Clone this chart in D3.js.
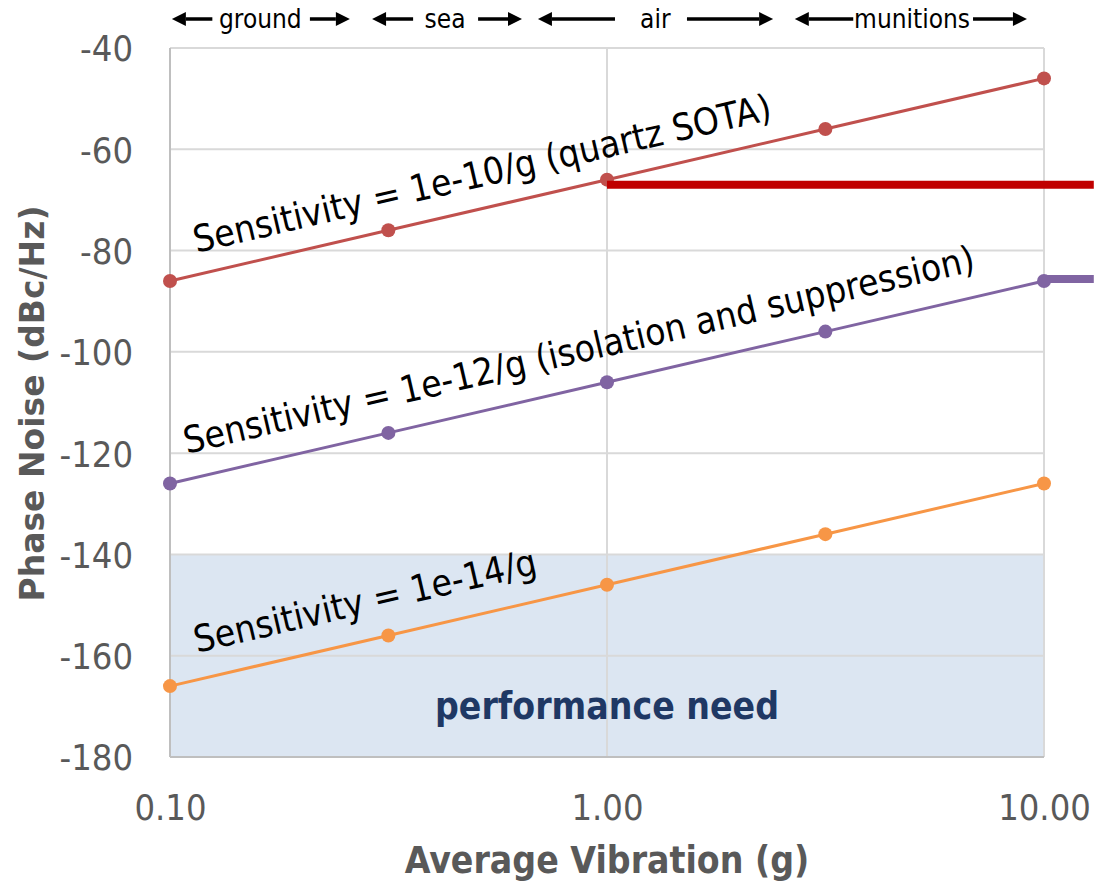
<!DOCTYPE html>
<html>
<head>
<meta charset="utf-8">
<script src="https://cdn.jsdelivr.net/npm/d3@7"></script>
<style>
  html, body { margin: 0; padding: 0; background: #ffffff; }
  svg { display: block; }
</style>
</head>
<body>
<svg id="chart" width="1094" height="881"></svg>
<script>
// ---------------- data ----------------
const vibration = [0.1, 0.316, 1, 3.16, 10];          // g
const sens1e10 = [-86, -76, -66, -56, -46];           // dBc/Hz
const sens1e12 = [-126, -116, -106, -96, -86];
const sens1e14 = [-166, -156, -146, -136, -126];
const seriesNames = ["Sensitivity = 1e-10/g (quartz SOTA)",
                     "Sensitivity = 1e-12/g (isolation and suppression)",
                     "Sensitivity = 1e-14/g"];
const yTickValues = [-40, -60, -80, -100, -120, -140, -160, -180];
const yTickLabels = ["-40", "-60", "-80", "-100", "-120", "-140", "-160", "-180"];
const xTickValues = [0.1, 1, 10];
const xTickLabels = ["0.10", "1.00", "10.00"];
const needBand = [-180, -140];                          // performance need band
const needLabel = "performance need";
const redLimitX = [1, 13];   const redLimitY = -67;
const purpleLimitX = [10, 13]; const purpleLimitY = -85.6;
// platform regions: label, label centre, left arrow [head, tail], right arrow [tail, head] (g)
const regionNames = ["ground", "sea", "air", "munitions"];
const regionCenters = [0.161, 0.426, 1.29, 4.99];
const leftArrows = [[0.101, 0.125], [0.290, 0.360], [0.695, 1.043], [2.69, 3.66]];
const rightArrows = [[0.209, 0.258], [0.507, 0.639], [1.524, 2.40], [6.88, 9.14]];
// label start positions along each line (g)
const labelStartX = [0.1150, 0.1092, 0.1153];

// ---------------- style ----------------
const colors = ["#c0504d", "#8064a2", "#f79646"];
const labelOffsets = [22, 26, 27];
const grey = "#595959";
const condensed = "'DejaVu Sans Condensed', 'DejaVu Sans', sans-serif";

const svg = d3.select("#chart");
const x = d3.scaleLog().domain([0.1, 10]).range([170, 1044]);
const y = d3.scaleLinear().domain([-180, -40]).range([757, 48]);

// performance need band
svg.append("rect")
  .attr("x", x(0.1)).attr("width", x(10) - x(0.1))
  .attr("y", y(needBand[1])).attr("height", y(needBand[0]) - y(needBand[1]))
  .attr("fill", "#dce6f2");

// gridlines
svg.append("g").selectAll("line").data(yTickValues.filter(v => v !== -180)).join("line")
  .attr("x1", x(0.1)).attr("x2", x(10))
  .attr("y1", d => y(d)).attr("y2", d => y(d))
  .attr("stroke", "#d9d9d9").attr("stroke-width", 2);
svg.append("g").selectAll("line").data(xTickValues.filter(v => v !== 0.1)).join("line")
  .attr("x1", d => x(d)).attr("x2", d => x(d))
  .attr("y1", y(-40)).attr("y2", y(-180))
  .attr("stroke", "#d9d9d9").attr("stroke-width", 2);

// axes lines
svg.append("line").attr("x1", x(0.1)).attr("x2", x(0.1)).attr("y1", y(-40)).attr("y2", y(-180))
  .attr("stroke", "#bfbfbf").attr("stroke-width", 2);
svg.append("line").attr("x1", x(0.1)).attr("x2", x(10)).attr("y1", y(-180)).attr("y2", y(-180))
  .attr("stroke", "#bfbfbf").attr("stroke-width", 2);

// tick labels via d3 axes (no ticks / domain)
const yAxis = svg.append("g").attr("transform", `translate(${x(0.1) - 37},0)`)
  .call(d3.axisLeft(y).tickValues(yTickValues).tickSize(0).tickFormat((d, i) => yTickLabels[i]));
yAxis.select(".domain").remove();
yAxis.selectAll("text")
  .attr("font-family", condensed)
  .attr("font-size", 36).attr("fill", grey).attr("x", 0).attr("dy", "0.36em");

const xAxis = svg.append("g").attr("transform", `translate(0,${y(-180)})`)
  .call(d3.axisBottom(x).tickValues(xTickValues).tickSize(0).tickFormat((d, i) => xTickLabels[i]));
xAxis.select(".domain").remove();
xAxis.selectAll("text")
  .attr("font-family", condensed)
  .attr("font-size", 36).attr("fill", grey).attr("y", 63).attr("dy", 0);

// performance need label
svg.append("text").attr("x", x(1)).attr("y", y(-172.5))
  .attr("text-anchor", "middle")
  .attr("font-family", condensed)
  .attr("font-weight", "bold").attr("font-size", 37).attr("fill", "#1f3864")
  .text(needLabel);

// series
const series = [sens1e10, sens1e12, sens1e14];
const line = d3.line().x(d => x(d[0])).y(d => y(d[1]));
series.forEach((vals, i) => {
  const pts = vibration.map((v, j) => [v, vals[j]]);
  svg.append("path").datum(pts).attr("d", line)
    .attr("fill", "none").attr("stroke", colors[i]).attr("stroke-width", 3);
  svg.append("g").selectAll("circle").data(pts).join("circle")
    .attr("cx", d => x(d[0])).attr("cy", d => y(d[1])).attr("r", 7)
    .attr("fill", colors[i]);
});

// limit lines
svg.append("line").attr("x1", x(redLimitX[0])).attr("x2", x(redLimitX[1]))
  .attr("y1", y(redLimitY)).attr("y2", y(redLimitY))
  .attr("stroke", "#c00000").attr("stroke-width", 8);
svg.append("line").attr("x1", x(purpleLimitX[0])).attr("x2", x(purpleLimitX[1]))
  .attr("y1", y(purpleLimitY)).attr("y2", y(purpleLimitY))
  .attr("stroke", "#8064a2").attr("stroke-width", 8);

// series labels along lines
series.forEach((vals, i) => {
  const x0 = x(vibration[0]), x1 = x(vibration[4]);
  const y0 = y(vals[0]), y1 = y(vals[4]);
  const ang = Math.atan2(y1 - y0, x1 - x0) * 180 / Math.PI;
  const sx = x(labelStartX[i]);
  const sy = y0 + (y1 - y0) * (sx - x0) / (x1 - x0) - labelOffsets[i];
  svg.append("text")
    .attr("transform", `translate(${sx},${sy}) rotate(${ang})`)
    .attr("font-family", condensed)
    .attr("font-size", 37).attr("fill", "#000")
    .text(seriesNames[i]);
});

// axis titles
svg.append("text").attr("transform", `translate(44,${(y(-40) + y(-180)) / 2 + 1}) rotate(-90)`)
  .attr("text-anchor", "middle")
  .attr("font-family", "'DejaVu Sans', sans-serif").attr("font-weight", "bold")
  .attr("font-size", 33).attr("fill", grey)
  .text("Phase Noise (dBc/Hz)");
svg.append("text").attr("x", (x(0.1) + x(10)) / 2).attr("y", 873)
  .attr("text-anchor", "middle")
  .attr("font-family", condensed).attr("font-weight", "bold")
  .attr("font-size", 37).attr("fill", grey)
  .text("Average Vibration (g)");

// region annotations at top
const arrowY = 19;
function arrow(fromX, headX) {
  const dir = Math.sign(headX - fromX);
  const headLen = 14, half = 7;
  svg.append("line").attr("x1", fromX).attr("x2", headX - dir * headLen)
    .attr("y1", arrowY).attr("y2", arrowY).attr("stroke", "#000").attr("stroke-width", 3.5);
  svg.append("path")
    .attr("d", `M${headX},${arrowY} L${headX - dir * headLen},${arrowY - half} L${headX - dir * headLen},${arrowY + half} Z`)
    .attr("fill", "#000");
}
regionNames.forEach((name, i) => {
  svg.append("text").attr("x", x(regionCenters[i])).attr("y", arrowY + 9)
    .attr("text-anchor", "middle")
    .attr("font-family", condensed)
    .attr("font-size", 26).attr("fill", "#000").text(name);
  arrow(x(leftArrows[i][1]), x(leftArrows[i][0]));
  arrow(x(rightArrows[i][0]), x(rightArrows[i][1]));
});
</script>
</body>
</html>
